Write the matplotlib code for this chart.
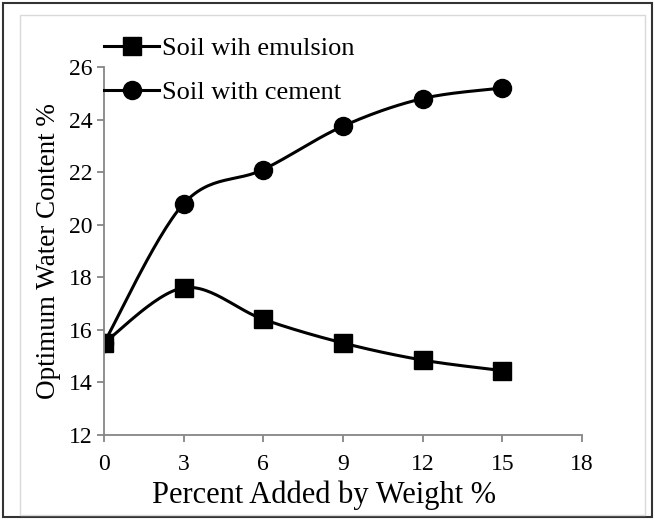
import numpy as np
import matplotlib.pyplot as plt
from matplotlib.patches import Rectangle
from matplotlib.lines import Line2D

plt.rcParams['font.family'] = ['Liberation Serif', 'DejaVu Serif']

# data
percent = [0, 3, 6, 9, 12, 15]
emulsion = [15.5, 17.6, 16.4, 15.5, 14.85, 14.45]
cement = [15.5, 20.8, 22.1, 23.75, 24.8, 25.2]
xticks = [0, 3, 6, 9, 12, 15, 18]
yticks = [12, 14, 16, 18, 20, 22, 24, 26]


def smooth(x, y, n=30):
    # Excel-style smoothed line (Catmull-Rom bezier through the points)
    x = np.asarray(x, float)
    y = np.asarray(y, float)
    px = np.concatenate([[x[0]], x, [x[-1]]])
    py = np.concatenate([[y[0]], y, [y[-1]]])
    xs, ys = [], []
    t = np.linspace(0, 1, n)
    for i in range(1, len(px) - 2):
        p0 = np.array([px[i], py[i]])
        p3 = np.array([px[i + 1], py[i + 1]])
        c1 = p0 + (np.array([px[i + 1], py[i + 1]]) - np.array([px[i - 1], py[i - 1]])) / 6
        c2 = p3 - (np.array([px[i + 2], py[i + 2]]) - np.array([px[i], py[i]])) / 6
        b = ((1 - t) ** 3)[:, None] * p0 + (3 * (1 - t) ** 2 * t)[:, None] * c1 \
            + (3 * (1 - t) * t ** 2)[:, None] * c2 + (t ** 3)[:, None] * p3
        xs.extend(b[:, 0])
        ys.extend(b[:, 1])
    return xs, ys


fig = plt.figure(figsize=(6.55, 5.2), dpi=100)
ax = fig.add_axes([104 / 655, 85 / 520, 478 / 655, 368 / 520])

sx, sy = smooth(percent, emulsion)
ax.plot(sx, sy, color='black', lw=2.2)
ax.plot(percent, emulsion, 's', color='black', ms=13)
sx, sy = smooth(percent, cement)
ax.plot(sx, sy, color='black', lw=2.2)
ax.plot(percent, cement, 'o', color='black', ms=13)

ax.set_xlim(0, 18)
ax.set_ylim(12, 26)
ax.set_xticks(xticks)
ax.set_yticks(yticks)
for s in ['top', 'right']:
    ax.spines[s].set_visible(False)
for s in ['left', 'bottom']:
    ax.spines[s].set_color('#868686')
    ax.spines[s].set_linewidth(1.3)
ax.tick_params(direction='out', length=5, width=1.3, color='#868686', labelsize=17, pad=3)
ax.tick_params(axis='x', pad=9)
ax.set_xlabel('Percent Added by Weight %', fontsize=22)
ax.xaxis.set_label_coords(0.46, -0.125)
ax.set_ylabel('Optimum Water Content %', fontsize=19.5, labelpad=6)

# legend handles: line through marker
h1 = Line2D([], [], color='black', lw=2.2, marker='s', ms=13)
h2 = Line2D([], [], color='black', lw=2.2, marker='o', ms=13)
fig.legend([h1, h2], ['Soil wih emulsion', 'Soil with cement'],
           loc='upper left', bbox_to_anchor=(104 / 655, 1 - 37 / 520),
           frameon=False, fontsize=19, handlelength=2.1, handletextpad=0.1,
           labelspacing=0.77, borderaxespad=0, borderpad=0)

# chart area borders
fig.patches.append(Rectangle((3 / 655, 3 / 520), 649 / 655, 514 / 520, transform=fig.transFigure,
                             fill=False, edgecolor='#333333', lw=1.5))
fig.patches.append(Rectangle((20 / 655, 5 / 520), 625 / 655, 500 / 520, transform=fig.transFigure,
                             fill=False, edgecolor='#d9d9d9', lw=1.0))

fig.savefig('out.png', dpi=100)
